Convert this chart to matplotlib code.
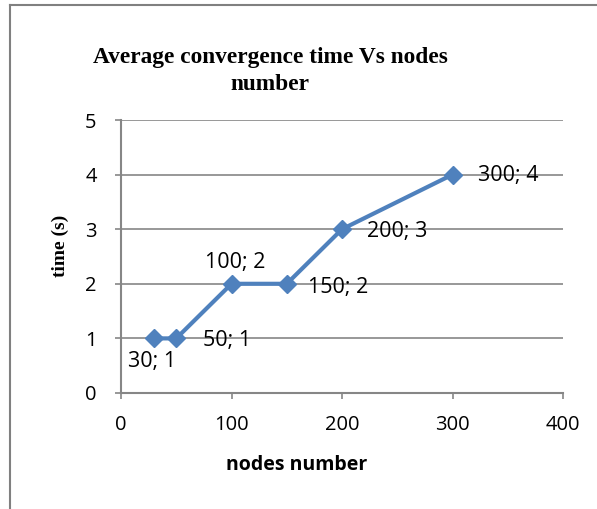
import matplotlib
matplotlib.use("Agg")
import matplotlib.pyplot as plt
from matplotlib.lines import Line2D

nodes = [30, 50, 100, 150, 200, 300]
times = [1, 1, 2, 2, 3, 4]
point_labels = ["30; 1", "50; 1", "100; 2", "150; 2", "200; 3", "300; 4"]
x_ticks = [0, 100, 200, 300, 400]
y_ticks = [0, 1, 2, 3, 4, 5]

# label offsets in pixels (dx, dy, ha, va)
offsets = [(-2, -23, "center", "center"),
           (27, -2, "left", "center"),
           (4, 21, "center", "center"),
           (21, -4, "left", "center"),
           (25, -2, "left", "center"),
           (26, -1, "left", "center")]

W, H = 597, 509
fig = plt.figure(figsize=(W / 100, H / 100), dpi=100)
ax = fig.add_axes([121 / W, 1 - 393 / H, (563 - 121) / W, (393 - 120) / H])

grey = "#868686"
sans = ["Open Sans", "DejaVu Sans"]
serif = ["Liberation Serif", "DejaVu Serif"]

ax.plot(nodes, times, color="#4F81BD", lw=3, marker="D", ms=9.5,
        mec="#4F81BD", mfc="#4F81BD", zorder=3, solid_joinstyle="round")

for x, y, t, (dx, dy, ha, va) in zip(nodes, times, point_labels, offsets):
    ax.annotate(t, (x, y), xytext=(dx * 0.72, dy * 0.72), textcoords="offset points",
                ha=ha, va=va, fontsize=15.5, family=sans, color="black", zorder=4)

ax.set_xlim(0, 400)
ax.set_ylim(0, 5)
ax.set_xticks(x_ticks)
ax.set_yticks(y_ticks)
ax.set_xticklabels([str(v) for v in x_ticks], family=sans, fontsize=14.5)
ax.set_yticklabels([str(v) for v in y_ticks], family=sans, fontsize=14.5)
ax.tick_params(axis="both", direction="out", length=4.5, width=1.2, color=grey)
ax.tick_params(axis="x", pad=11)
ax.tick_params(axis="y", pad=13)
ax.grid(axis="y", color=grey, lw=1.2, zorder=0)
ax.set_axisbelow(True)
for s in ["top", "right"]:
    ax.spines[s].set_visible(False)
for s in ["left", "bottom"]:
    ax.spines[s].set_color(grey)
    ax.spines[s].set_linewidth(1.5)

fig.text(270 / W, 1 - 71 / H, "Average convergence time Vs nodes\nnumber",
         ha="center", va="center", family=serif, fontweight="bold", fontsize=16.8,
         linespacing=1.4)
fig.text(60 / W, 1 - 246 / H, "time (s)", rotation=90, ha="center", va="center",
         family=serif, fontweight="bold", fontsize=14)
fig.text(297 / W, 1 - 465 / H, "nodes number", ha="center", va="center",
         family=sans, fontweight="bold", fontsize=14)

# figure border
fig.add_artist(Line2D([10 / W, 10 / W], [0, 1 - 5 / H], transform=fig.transFigure,
                      color="#808080", lw=1.5))
fig.add_artist(Line2D([10 / W, 1], [1 - 5 / H, 1 - 5 / H], transform=fig.transFigure,
                      color="#808080", lw=1.5))

fig.savefig("out.png", dpi=100)
